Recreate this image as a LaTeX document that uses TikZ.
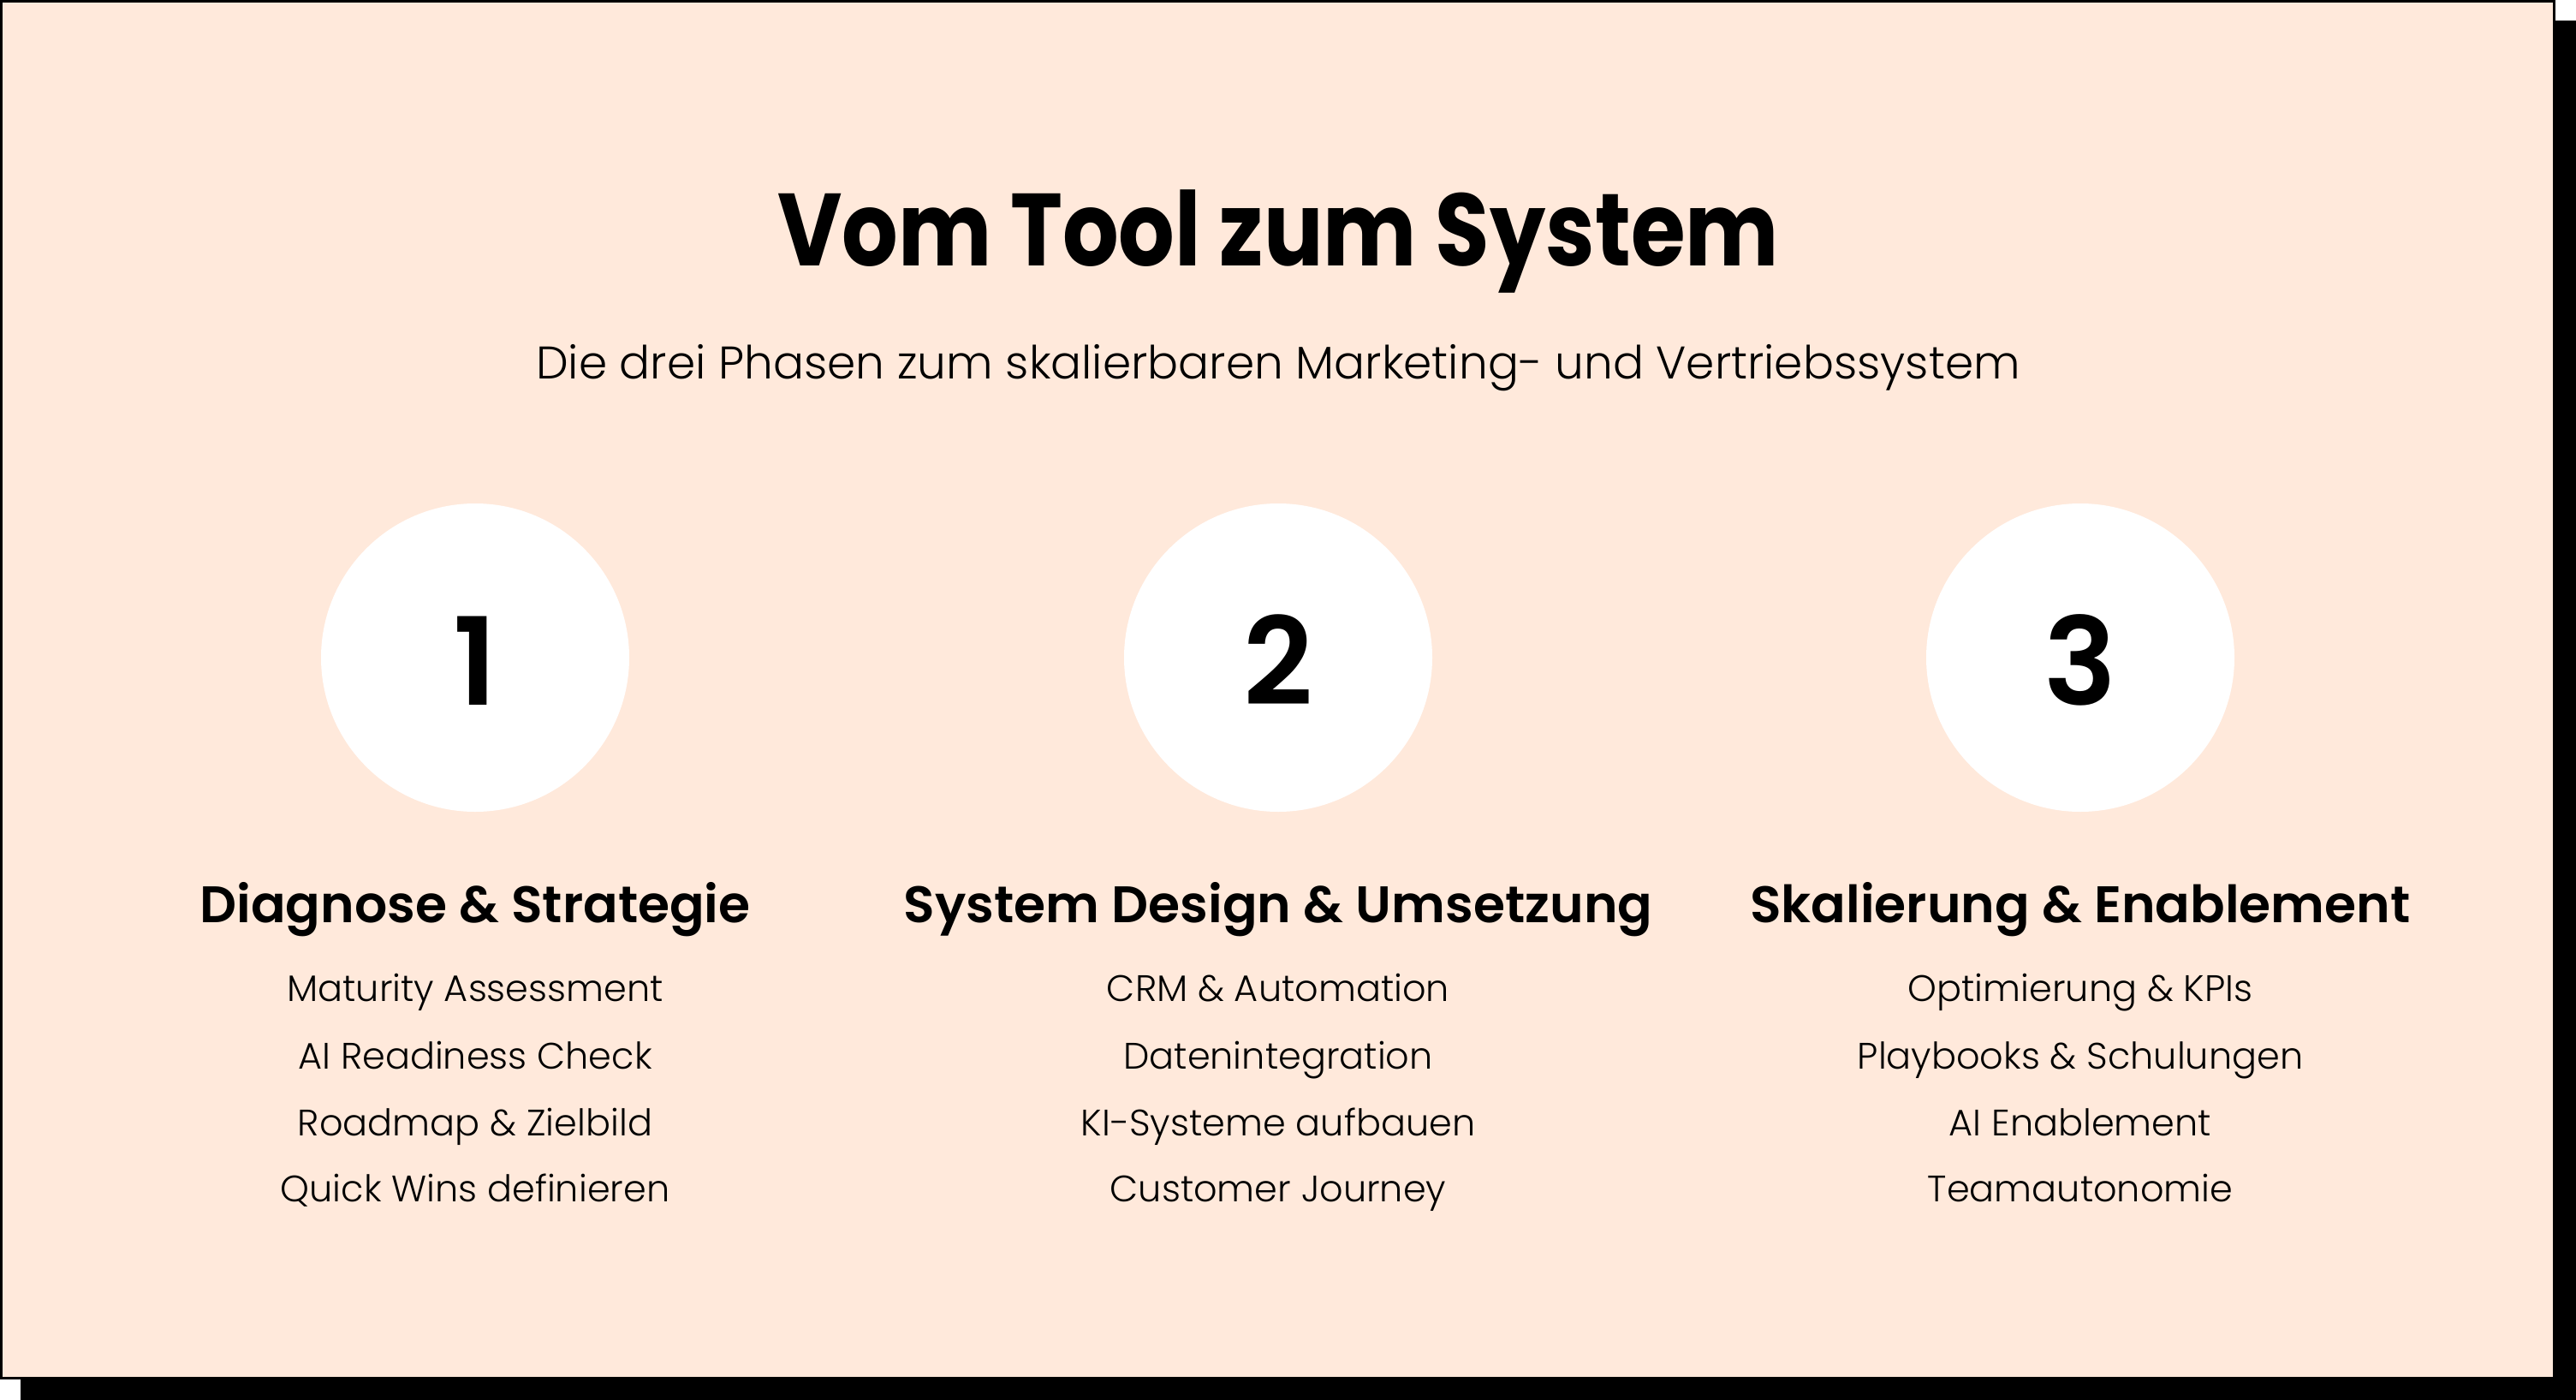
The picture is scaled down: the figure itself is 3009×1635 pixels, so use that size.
\documentclass[tikz,border=0pt]{standalone}
\usepackage{fontspec}
\setmainfont{Poppins}
\newfontfamily\poplight{Poppins Light}
\newfontfamily\popsemi{Poppins SemiBold}
\newfontfamily\popbold[FakeStretch=0.86]{Poppins Bold}
\definecolor{peach}{HTML}{FFE9DB}
\tikzset{
  title/.style={anchor=base, font=\popbold\fontsize{120}{130}\selectfont},
  subtitle/.style={anchor=base, font=\poplight\fontsize{53.4}{60}\selectfont},
  phase/.style={circle, fill=white, minimum size=360pt, inner sep=0pt},
  digit/.style={anchor=base, font=\popsemi\fontsize{142}{150}\selectfont},
  heading/.style={anchor=base, font=\popsemi\fontsize{60}{70}\selectfont},
  item/.style={anchor=base, font=\poplight\fontsize{43}{50}\selectfont},
}
\begin{document}
\begin{tikzpicture}[x=1pt, y=-1pt]
\useasboundingbox (0,0) rectangle (3009,1635);
\fill[black] (24,24) rectangle (3009,1635);
\draw[line width=3pt, fill=peach] (1.5,1.5) rectangle (2983.5,1609.5);

\node[title] (t) at (1493,310) {Vom Tool zum System};
\node[subtitle] (st) at (1493,442) {Die drei Phasen zum skalierbaren Marketing- und Vertriebssystem};

\foreach \i/\x/\h/\a/\b/\c/\d in {
  1/555/{Diagnose \& Strategie}/{Maturity Assessment}/{AI Readiness Check}/{Roadmap \& Zielbild}/{Quick Wins definieren},
  2/1493/{System Design \& Umsetzung}/{CRM \& Automation}/{Datenintegration}/{KI-Systeme aufbauen}/{Customer Journey},
  3/2430/{Skalierung \& Enablement}/{Optimierung \& KPIs}/{Playbooks \& Schulungen}/{AI Enablement}/{Teamautonomie}}
{
  \node[phase] (c\i) at (\x,768) {};
  \node[digit] (n\i) at (\x,823) {\i};
  \node[heading] (h\i) at (\x,1077) {\h};
  \node[item] (a\i) at (\x,1169) {\a};
  \node[item] (b\i) at (\x,1248) {\b};
  \node[item] (r\i) at (\x,1326) {\c};
  \node[item] (q\i) at (\x,1403) {\d};
}
\end{tikzpicture}
\end{document}
